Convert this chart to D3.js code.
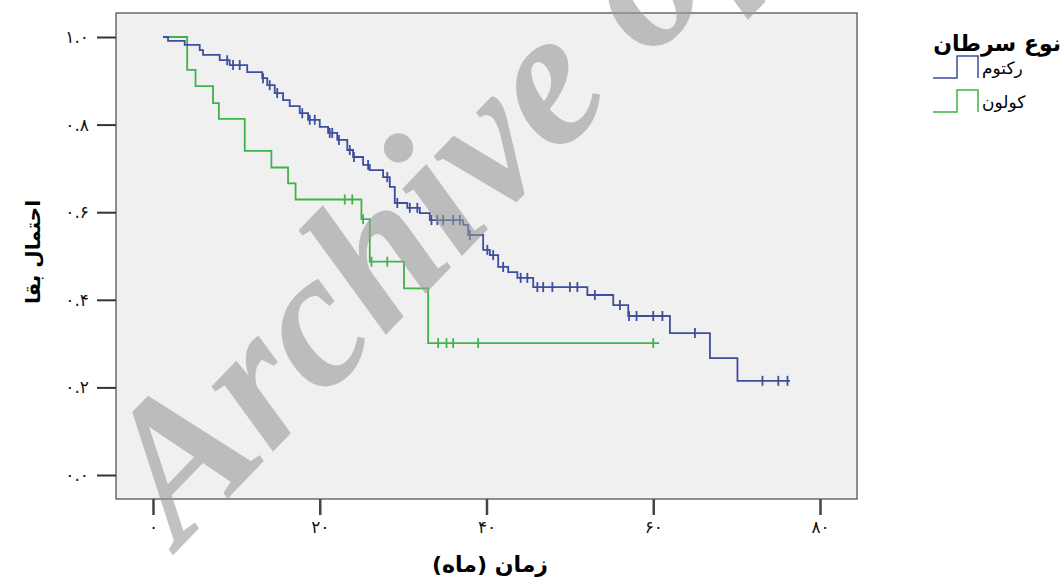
<!DOCTYPE html>
<html>
<head>
<meta charset="utf-8">
<script src="https://cdn.jsdelivr.net/npm/d3@7"></script>
<style>
  body { margin: 0; background: #fff; }
  text { font-family: "DejaVu Sans", sans-serif; }
</style>
</head>
<body>
<script>
// survival steps: [time, survival after the drop]
var rectumSteps = [
  [1.2, 1.0], [1.8, 0.991], [3.8, 0.982], [5.6, 0.970], [6.0, 0.959], [8.0, 0.947],
  [9.2, 0.936], [11.3, 0.920], [13.1, 0.906], [13.7, 0.890], [14.6, 0.872], [15.6, 0.856],
  [16.4, 0.842], [17.6, 0.826], [18.6, 0.811], [20.0, 0.795], [21.0, 0.781], [22.1, 0.765],
  [23.3, 0.742], [24.0, 0.726], [25.2, 0.708], [26.0, 0.696], [27.6, 0.680], [28.4, 0.658],
  [29.0, 0.621], [30.5, 0.610], [32.0, 0.598], [33.2, 0.582], [37.2, 0.571], [37.8, 0.548],
  [39.6, 0.514], [40.4, 0.502], [41.4, 0.475], [42.6, 0.463], [43.7, 0.450], [45.6, 0.429],
  [52.1, 0.411], [55.2, 0.388], [57.0, 0.363], [62.0, 0.324], [66.8, 0.267], [70.1, 0.215],
  [76.4, 0.215]
];
var rectumCensored = [8.9, 9.6, 10.4, 13.2, 14.0, 14.9, 17.9, 18.8, 19.4, 21.2, 21.5, 22.3,
  23.6, 24.1, 25.8, 28.1, 29.3, 30.8, 31.7, 33.4, 34.1, 34.8, 36.0, 36.8, 38.0, 40.1, 40.8,
  42.0, 44.1, 44.9, 46.1, 46.8, 47.9, 50.0, 50.9, 53.0, 56.0, 57.1, 58.0, 60.0, 61.1, 65.0,
  73.1, 75.0, 76.1];

var colonSteps = [
  [1.2, 1.0], [4.1, 0.925], [5.1, 0.888], [7.2, 0.849], [7.9, 0.813], [11.0, 0.740],
  [14.2, 0.702], [16.2, 0.666], [17.1, 0.629], [25.0, 0.584], [26.0, 0.487], [30.1, 0.426],
  [33.0, 0.301], [60.7, 0.301]
];
var colonCensored = [23.0, 23.9, 25.2, 26.2, 28.1, 34.2, 35.2, 36.0, 39.0, 60.0];

var groups = ['رکتوم', 'کولون'];
var groupColors = ['#3e4d9e', '#3fb34a'];
var xTicks = [0, 20, 40, 60, 80];
var yTicks = [0, 0.2, 0.4, 0.6, 0.8, 1.0];
var faDigits = '۰۱۲۳۴۵۶۷۸۹';

var width = 1063, height = 579;
var plot = { left: 116, top: 13, right: 857, bottom: 499 };

var svg = d3.select('body').append('svg')
  .attr('width', width)
  .attr('height', height);

var x = d3.scaleLinear().domain([0, 80]).range([153, 820]);
var y = d3.scaleLinear().domain([0, 1]).range([475, 37]);

var toFa = function(s) {
  return String(s).replace(/[0-9]/g, function(d) { return faDigits[+d]; });
};

svg.append('rect')
  .attr('x', plot.left).attr('y', plot.top)
  .attr('width', plot.right - plot.left).attr('height', plot.bottom - plot.top)
  .attr('fill', '#f0f0f0')
  .attr('stroke', '#555').attr('stroke-width', 1.3);

// y axis
var yAxis = svg.append('g')
  .attr('transform', 'translate(' + plot.left + ',0)')
  .call(d3.axisLeft(y).tickValues(yTicks).tickSize(19).tickPadding(8)
    .tickFormat(function(d) { return toFa(d.toFixed(1)); }));
yAxis.select('.domain').remove();
yAxis.selectAll('line').attr('stroke', '#333').attr('stroke-width', 2);
yAxis.selectAll('text').style('font-size', '17px').attr('fill', '#111');

// x axis
var xAxis = svg.append('g')
  .attr('transform', 'translate(0,' + plot.bottom + ')')
  .call(d3.axisBottom(x).tickValues(xTicks).tickSize(16).tickPadding(6)
    .tickFormat(function(d) { return toFa(d); }));
xAxis.select('.domain').remove();
xAxis.selectAll('line').attr('stroke', '#444').attr('stroke-width', 2.5);
xAxis.selectAll('text').style('font-size', '17px').attr('fill', '#111');

// curves
var line = d3.line()
  .x(function(d) { return x(d[0]); })
  .y(function(d) { return y(d[1]); })
  .curve(d3.curveStepAfter);

var survivalAt = function(steps, t) {
  var v = steps[0][1];
  steps.forEach(function(s) { if (s[0] <= t) v = s[1]; });
  return v;
};

var series = [
  { steps: rectumSteps, cens: rectumCensored, color: groupColors[0] },
  { steps: colonSteps, cens: colonCensored, color: groupColors[1] }
];

series.slice().reverse().forEach(function(s) {
  svg.append('path')
    .datum(s.steps)
    .attr('d', line)
    .attr('fill', 'none')
    .attr('stroke', s.color)
    .attr('stroke-width', 1.8);

  svg.selectAll(null)
    .data(s.cens)
    .enter().append('line')
    .attr('x1', function(t) { return x(t); })
    .attr('x2', function(t) { return x(t); })
    .attr('y1', function(t) { return y(survivalAt(s.steps, t)) - 5; })
    .attr('y2', function(t) { return y(survivalAt(s.steps, t)) + 5; })
    .attr('stroke', s.color)
    .attr('stroke-width', 1.8);
});

// axis titles
svg.append('text')
  .attr('x', 490).attr('y', 572)
  .attr('text-anchor', 'middle')
  .attr('direction', 'rtl')
  .style('font-size', '22px').attr('font-weight', 'bold')
  .text('زمان (ماه)');

svg.append('text')
  .attr('transform', 'translate(40,252) rotate(-90)')
  .attr('text-anchor', 'middle')
  .attr('direction', 'rtl')
  .style('font-size', '20px').attr('font-weight', 'bold')
  .text('احتمال بقا');

// legend
var legend = svg.append('g');
legend.append('text')
  .attr('x', 1061).attr('y', 51)
  .attr('text-anchor', 'start')
  .attr('direction', 'rtl')
  .style('font-size', '22px').attr('font-weight', 'bold')
  .text('نوع سرطان');

groups.forEach(function(g, i) {
  var base = 78 + i * 34;
  legend.append('path')
    .attr('d', 'M933,' + base + 'H957V' + (base - 22) + 'H978V' + base)
    .attr('fill', 'none')
    .attr('stroke', groupColors[i])
    .attr('stroke-width', 1.5);
  legend.append('text')
    .attr('x', 982).attr('y', base - 4)
    .style('font-size', '17px')
    .text(g);
});

// watermark
svg.append('text')
  .attr('transform', 'translate(180,548) rotate(-46)')
  .style('font-family', '"Liberation Serif", "DejaVu Serif", serif')
  .style('font-style', 'italic').style('font-weight', 'bold')
  .style('font-size', '195px')
  .attr('fill', '#9a9a9a').attr('fill-opacity', 0.6)
  .text('Archive of');
</script>
</body>
</html>
